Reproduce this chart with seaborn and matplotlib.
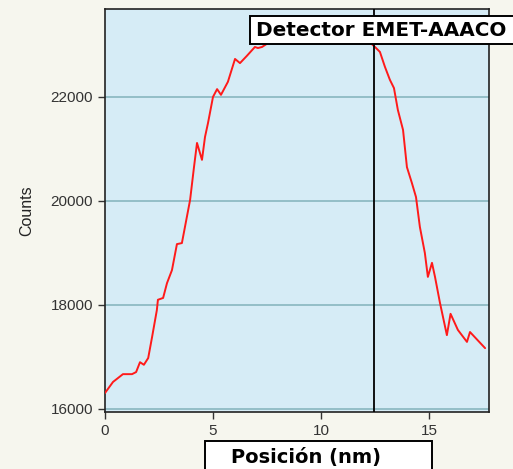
import numpy as np
import pandas as pd
import matplotlib
matplotlib.use("Agg")
import matplotlib.pyplot as plt
import seaborn as sns
from matplotlib.patches import Rectangle

# profile (position in nm, counts)
posicion = [0.0, 0.37, 0.83, 1.25, 1.44, 1.62, 1.8, 2.0, 2.18, 2.4, 2.45, 2.69, 2.87,
            3.1, 3.33, 3.56, 3.94, 4.12, 4.26, 4.49, 4.63, 4.77, 5.0, 5.19, 5.37,
            5.69, 6.02, 6.25, 6.57, 6.94, 7.08, 7.27, 7.6, 8.0, 8.5, 9.0, 9.5,
            10.0, 10.5, 11.0, 11.5, 12.0, 12.5, 12.73, 12.96, 13.19, 13.38, 13.56,
            13.8, 13.98, 14.21, 14.4, 14.58, 14.81, 14.95, 15.14, 15.28, 15.51,
            15.83, 16.0, 16.34, 16.76, 16.9, 17.6]
counts = [16308, 16520, 16670, 16670, 16710, 16900, 16850, 16980, 17385, 17900, 18100,
          18135, 18420, 18670, 19170, 19190, 20020, 20650, 21115, 20790, 21230, 21500,
          22000, 22150, 22040, 22290, 22730, 22650, 22790, 22960, 22940, 22960, 23050,
          23150, 23250, 23300, 23350, 23400, 23420, 23400, 23300, 23150, 22960, 22865,
          22580, 22330, 22170, 21750, 21365, 20650, 20345, 20075, 19500, 19000, 18540,
          18810, 18540, 18040, 17420, 17830, 17520, 17290, 17480, 17170]
yticks = [16000, 18000, 20000, 22000]
xticks = [0, 5, 10, 15]
cursor_x = 12.45

df = pd.DataFrame({"Posicion": posicion, "Counts": counts})

sns.set_style("ticks", {"axes.facecolor": "#d6ecf6", "figure.facecolor": "#f6f6ee",
                        "axes.edgecolor": "#222222"})
plt.rcParams["font.family"] = ["Liberation Sans", "DejaVu Sans"]

fig = plt.figure(figsize=(5.13, 4.69), dpi=100)
ax = fig.add_axes([0.2047, 0.1215, 0.7485, 0.8595])

for v in yticks:
    ax.axhline(v, color="#82b2ba", lw=1.1, zorder=1)

sns.lineplot(data=df, x="Posicion", y="Counts", color="#ff1a1a", lw=1.4, ax=ax, zorder=3)
ax.axvline(cursor_x, color="black", lw=1.3, zorder=4)

ax.set_xlim(0, 17.78)
ax.set_ylim(15942, 23692)
ax.set_xticks(xticks)
ax.set_yticks(yticks)
ax.tick_params(labelsize=11, colors="#333333", length=5, width=1)
ax.set_xlabel("")
ax.set_ylabel("Counts", fontsize=11.5, color="#222222", labelpad=12)
for s in ax.spines.values():
    s.set_linewidth(1.2)

# label boxes
fig.patches.append(Rectangle((0.487, 0.906), 0.53, 0.0597, transform=fig.transFigure,
                             facecolor="white", edgecolor="black", lw=1.4, zorder=10))
fig.text(0.499, 0.935, "Detector EMET-AAACO", fontsize=14.4, fontweight="bold",
         family="DejaVu Sans", color="black", va="center", ha="left", zorder=11)
fig.patches.append(Rectangle((0.3996, -0.02), 0.4425, 0.0797, transform=fig.transFigure,
                             facecolor="white", edgecolor="black", lw=1.4, zorder=10))
fig.text(0.597, 0.024, "Posición (nm)", fontsize=14, fontweight="bold",
         family="DejaVu Sans", color="black", va="center", ha="center", zorder=11)

fig.savefig("out.png", dpi=100, facecolor=fig.get_facecolor())
